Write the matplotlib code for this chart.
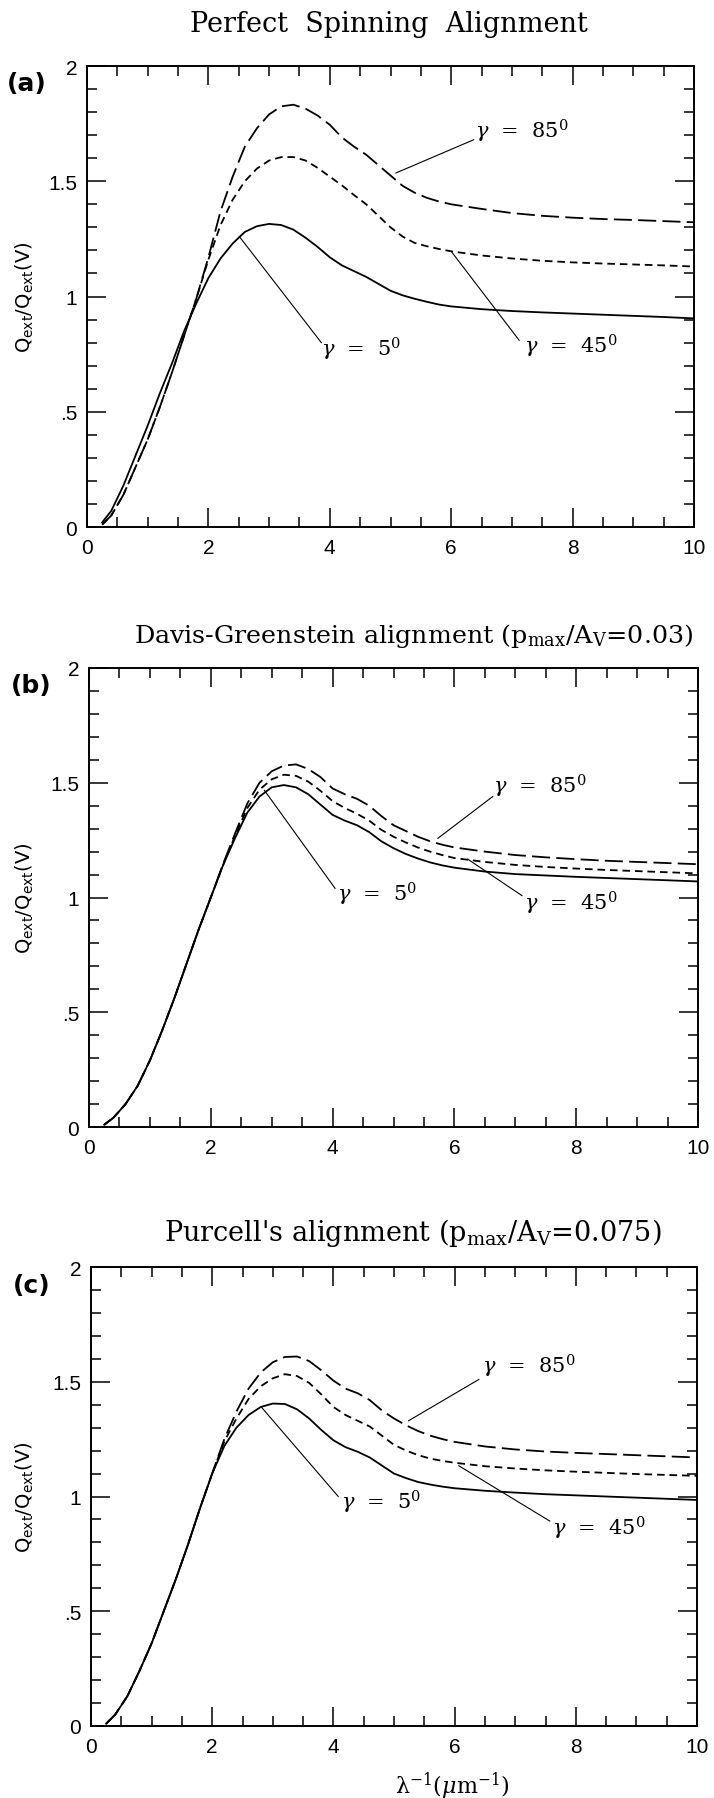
import matplotlib
matplotlib.use("Agg")
import matplotlib.pyplot as plt
from matplotlib.ticker import MultipleLocator, FixedLocator, FixedFormatter

plt.rcParams['mathtext.fontset'] = 'dejavuserif'
plt.rcParams['lines.scale_dashes'] = False

# ---------------- data ----------------
x = [0.25, 0.4, 0.6, 0.8, 1.0, 1.2, 1.4, 1.6, 1.8, 2.0,
     2.2, 2.4, 2.6, 2.8, 3.0, 3.2, 3.4, 3.6, 3.8, 4.0,
     4.2, 4.4, 4.6, 4.8, 5.0, 5.2, 5.4, 5.6, 5.8, 6.0,
     6.5, 7.0, 7.5, 8.0, 8.5, 9.0, 9.5, 10.0]

a_g5 = [0.02, 0.07, 0.18, 0.31, 0.44, 0.58, 0.71, 0.85, 0.97, 1.08,
        1.165, 1.23, 1.28, 1.305, 1.315, 1.31, 1.29, 1.255, 1.215, 1.17,
        1.135, 1.11, 1.085, 1.055, 1.025, 1.005, 0.99, 0.977, 0.965, 0.957,
        0.945, 0.937, 0.931, 0.926, 0.921, 0.916, 0.911, 0.905]
a_g45 = [0.01, 0.05, 0.14, 0.26, 0.38, 0.52, 0.67, 0.83, 0.99, 1.16,
         1.31, 1.42, 1.50, 1.555, 1.59, 1.605, 1.605, 1.59, 1.558, 1.52,
         1.482, 1.44, 1.40, 1.35, 1.30, 1.26, 1.232, 1.218, 1.206, 1.196,
         1.178, 1.165, 1.155, 1.148, 1.143, 1.139, 1.135, 1.13]
a_g85 = [0.01, 0.05, 0.14, 0.26, 0.38, 0.52, 0.67, 0.83, 0.99, 1.17,
         1.37, 1.52, 1.65, 1.73, 1.79, 1.825, 1.832, 1.815, 1.785, 1.745,
         1.69, 1.65, 1.615, 1.57, 1.525, 1.48, 1.45, 1.428, 1.412, 1.40,
         1.38, 1.362, 1.35, 1.342, 1.336, 1.332, 1.327, 1.322]

b_g5 = [0.01, 0.04, 0.10, 0.18, 0.29, 0.42, 0.56, 0.71, 0.86, 1.0,
        1.14, 1.26, 1.37, 1.44, 1.48, 1.49, 1.48, 1.45, 1.405, 1.36,
        1.335, 1.315, 1.285, 1.245, 1.215, 1.19, 1.17, 1.153, 1.14, 1.13,
        1.113, 1.102, 1.096, 1.09, 1.085, 1.08, 1.075, 1.07]
b_g45 = [0.01, 0.04, 0.10, 0.18, 0.29, 0.42, 0.56, 0.71, 0.86, 1.0,
         1.14, 1.27, 1.39, 1.47, 1.515, 1.535, 1.53, 1.505, 1.465, 1.42,
         1.39, 1.365, 1.335, 1.295, 1.265, 1.24, 1.218, 1.2, 1.185, 1.172,
         1.155, 1.142, 1.133, 1.126, 1.12, 1.115, 1.11, 1.105]
b_g85 = [0.01, 0.04, 0.10, 0.18, 0.29, 0.42, 0.56, 0.71, 0.86, 1.0,
         1.145, 1.28, 1.41, 1.50, 1.55, 1.575, 1.58, 1.56, 1.525, 1.475,
         1.45, 1.43, 1.40, 1.355, 1.315, 1.29, 1.265, 1.245, 1.23, 1.218,
         1.2, 1.185, 1.175, 1.167, 1.16, 1.155, 1.15, 1.145]

c_g5 = [0.01, 0.05, 0.13, 0.24, 0.36, 0.50, 0.64, 0.79, 0.95, 1.10,
        1.22, 1.30, 1.355, 1.39, 1.405, 1.403, 1.38, 1.34, 1.29, 1.245,
        1.215, 1.195, 1.17, 1.135, 1.10, 1.08, 1.063, 1.052, 1.043, 1.036,
        1.025, 1.017, 1.01, 1.005, 1.0, 0.995, 0.99, 0.985]
c_g45 = [0.01, 0.05, 0.13, 0.24, 0.36, 0.50, 0.64, 0.79, 0.95, 1.10,
         1.24, 1.34, 1.425, 1.48, 1.515, 1.533, 1.525, 1.495, 1.445, 1.39,
         1.355, 1.33, 1.305, 1.265, 1.225, 1.2, 1.18, 1.165, 1.155, 1.147,
         1.132, 1.122, 1.114, 1.108, 1.103, 1.098, 1.094, 1.09]
c_g85 = [0.01, 0.05, 0.13, 0.24, 0.36, 0.50, 0.64, 0.79, 0.95, 1.10,
         1.25, 1.37, 1.47, 1.54, 1.585, 1.608, 1.61, 1.59, 1.55, 1.505,
         1.47, 1.45, 1.42, 1.375, 1.34, 1.31, 1.285, 1.265, 1.25, 1.238,
         1.218, 1.205, 1.196, 1.19, 1.185, 1.18, 1.175, 1.17]

titles = ["Perfect  Spinning  Alignment",
          r"Davis-Greenstein alignment (p$_{\mathregular{max}}$/A$_{\mathregular{V}}$=0.03)",
          r"Purcell's alignment (p$_{\mathregular{max}}$/A$_{\mathregular{V}}$=0.075)"]
title_sizes = [19.5, 18.3, 19.5]
panel_tags = ["(a)", "(b)", "(c)"]
angle_labels = ["5", "45", "85"]
xtick_vals = [0, 2, 4, 6, 8, 10]
xtick_labels = ["0", "2", "4", "6", "8", "10"]
ytick_vals = [0, 0.5, 1, 1.5, 2]
ytick_labels = ["0", ".5", "1", "1.5", "2"]

# annotation layout per panel: (text_x, text_y, line_start, line_end) for 5, 45, 85
annots = [
    [(3.85, 0.775, (3.86, 0.80), (2.51, 1.26)),
     (7.20, 0.79, (7.12, 0.81), (6.00, 1.196)),
     (6.40, 1.72, (6.37, 1.68), (5.09, 1.536))],
    [(4.08, 1.02, (4.04, 1.04), (2.88, 1.467)),
     (7.15, 0.98, (7.11, 1.008), (6.22, 1.167)),
     (6.63, 1.49, (6.63, 1.44), (5.73, 1.258))],
    [(4.12, 0.98, (4.08, 1.00), (2.81, 1.39)),
     (7.60, 0.866, (7.57, 0.893), (6.07, 1.134)),
     (6.45, 1.57, (6.40, 1.51), (5.24, 1.33))],
]

series = [(a_g5, a_g45, a_g85), (b_g5, b_g45, b_g85), (c_g5, c_g45, c_g85)]

# ---------------- layout ----------------
W, H = 714, 1799
fig = plt.figure(figsize=(W / 100, H / 100), dpi=100)

boxes = [(87, 67, 694, 528), (89, 669, 698, 1128), (91, 1268, 697, 1727)]
title_pos = [(389, 25), (414, 636), (413, 1233)]
tag_pos = [(27, 84), (31, 686), (32, 1286)]

styles = [dict(linestyle='-'),
          dict(linestyle=(0, (5.5, 3.5))),
          dict(linestyle=(0, (13, 4.5)))]

for i in range(3):
    l, t, r, b = boxes[i]
    ax = fig.add_axes([l / W, 1 - b / H, (r - l) / W, (b - t) / H])
    for ys, st in zip(series[i], styles):
        ax.plot(x, ys, color='black', lw=1.3, solid_joinstyle='round', **st)
    for (tx, ty, p0, p1), ang in zip(annots[i], angle_labels):
        ax.plot([p0[0], p1[0]], [p0[1], p1[1]], color='black', lw=0.8)
        ax.text(tx, ty, r'$\gamma$  =  ' + ang + r'$^{\mathregular{0}}$',
                fontsize=15, family='DejaVu Serif', va='center', ha='left')
    ax.set_xlim(0, 10)
    ax.set_ylim(0, 2)
    ax.xaxis.set_major_locator(FixedLocator(xtick_vals))
    ax.xaxis.set_major_formatter(FixedFormatter(xtick_labels))
    ax.yaxis.set_major_locator(FixedLocator(ytick_vals))
    ax.yaxis.set_major_formatter(FixedFormatter(ytick_labels))
    ax.xaxis.set_minor_locator(MultipleLocator(0.5))
    ax.yaxis.set_minor_locator(MultipleLocator(0.1))
    ax.tick_params(which='both', direction='in', top=True, right=True, width=1.1)
    ax.tick_params(which='major', length=14)
    ax.tick_params(which='minor', length=7)
    ax.tick_params(axis='x', which='major', pad=8, labelsize=15)
    ax.tick_params(axis='y', which='major', pad=7, labelsize=15)
    for lab in ax.get_xticklabels() + ax.get_yticklabels():
        lab.set_family('Liberation Sans')
    for sp in ax.spines.values():
        sp.set_linewidth(1.4)
    ax.set_ylabel(r'$\mathsf{Q_{ext}/Q_{ext}(V)}$', fontsize=14)
    ax.yaxis.set_label_coords((36 - l) / (r - l), 0.5)
    tx, ty = title_pos[i]
    fig.text(tx / W, 1 - ty / H, titles[i], family='DejaVu Serif',
             fontsize=title_sizes[i], ha='center', va='center')
    gx, gy = tag_pos[i]
    fig.text(gx / W, 1 - gy / H, panel_tags[i], family='DejaVu Sans', fontsize=18,
             fontweight='bold', ha='center', va='center')
    if i == 2:
        fig.text(452 / W, 1 - 1786 / H,
                 r'λ$^{\mathregular{-1}}$($\mu$m$^{\mathregular{-1}}$)',
                 family='DejaVu Serif', fontsize=16, ha='center', va='center')

fig.savefig('out.png', dpi=100)
